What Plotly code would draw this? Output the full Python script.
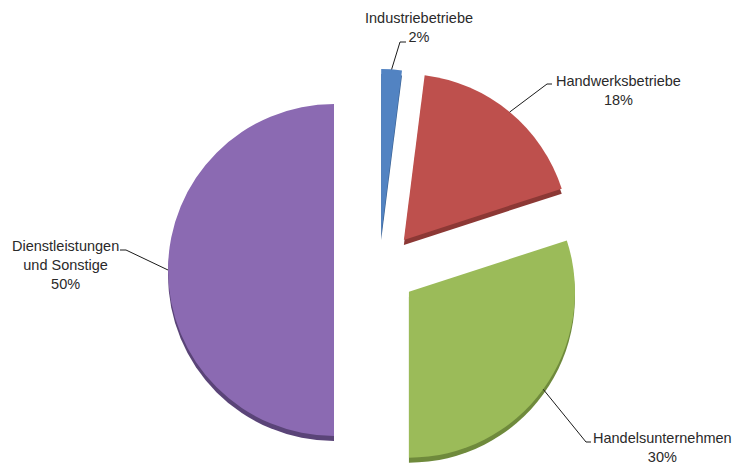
import math
import plotly.graph_objects as go

# ---- data ----
labels = ["Industriebetriebe", "Handwerksbetriebe", "Handelsunternehmen", "Dienstleistungen und Sonstige"]
label_text = ["Industriebetriebe", "Handwerksbetriebe", "Handelsunternehmen", "Dienstleistungen<br>und Sonstige"]
values = [2, 18, 30, 50]

# ---- style ----
colors = ["#5283C2", "#BE504D", "#9BBB59", "#8B6AB2"]
side_colors = ["#3A6091", "#8C3835", "#6F8A3C", "#5A4478"]
W, H = 749, 465
CX, CY = 379, 270          # un-exploded pie centre (pixels)
R = 166                    # radius (pixels)
PULL_PX = [35, 39, 37, 45] # explosion distance of each slice (pixels)
DEPTH = 5                  # 3D thickness (pixels)

total = sum(values)
fracs = [v / total for v in values]
mids, cum = [], 0
for f in fracs:
    mids.append(2 * math.pi * (cum + f / 2))
    cum += f

# each slice is its own pie trace (others transparent), positioned by its explosion offset
centres = []
for i, m in enumerate(mids):
    sx, sy = math.sin(m), -math.cos(m)
    centres.append((CX + PULL_PX[i] * sx, CY + PULL_PX[i] * sy))

def domain(cx, cy):
    return dict(x=[(cx - R) / W, (cx + R) / W], y=[1 - (cy + R) / H, 1 - (cy - R) / H])

fig = go.Figure()
for layer, (dy, cols) in enumerate(((DEPTH, side_colors), (0, colors))):
    for i in range(len(values)):
        slice_cols = ["rgba(0,0,0,0)"] * len(values)
        slice_cols[i] = cols[i]
        cx, cy = centres[i]
        fig.add_trace(go.Pie(
            labels=labels, values=values, sort=False, direction="clockwise", rotation=0,
            textinfo="none", hoverinfo="label+percent" if layer else "skip",
            marker=dict(colors=slice_cols, line=dict(width=0)),
            domain=domain(cx, cy + dy), showlegend=False,
        ))

# label placement (text centre and leader elbow, pixels)
text_pos = [(419, 28), (618, 91), (662, 447), (65, 265)]
elbow = [(400, 42, 406), (547, 84, 552), (586, 442, 591), (126, 250, 120)]

px = lambda x: x / W
py = lambda y: 1 - y / H
shapes, annots = [], []
for i, m in enumerate(mids):
    sx, sy = math.sin(m), -math.cos(m)
    cx, cy = centres[i]
    ax, ay = cx + R * sx, cy + R * sy
    ex, ey, tx = elbow[i]
    shapes.append(dict(type="path", xref="paper", yref="paper",
                       path=f"M {px(ax)} {py(ay)} L {px(ex)} {py(ey)} L {px(tx)} {py(ey)}",
                       line=dict(color="#1a1a1a", width=1)))
    pct = round(100 * fracs[i])
    annots.append(dict(x=px(text_pos[i][0]), y=py(text_pos[i][1]), xref="paper", yref="paper",
                       text=f"{label_text[i]}<br>{pct}%", showarrow=False, align="center",
                       xanchor="center", yanchor="middle",
                       font=dict(family="Liberation Sans, Arial, sans-serif", size=14.5, color="#2a2a2a")))

fig.update_layout(
    width=W, height=H, margin=dict(l=0, r=0, t=0, b=0),
    paper_bgcolor="white", plot_bgcolor="white",
    shapes=shapes, annotations=annots,
)
fig.write_html("out.html")
